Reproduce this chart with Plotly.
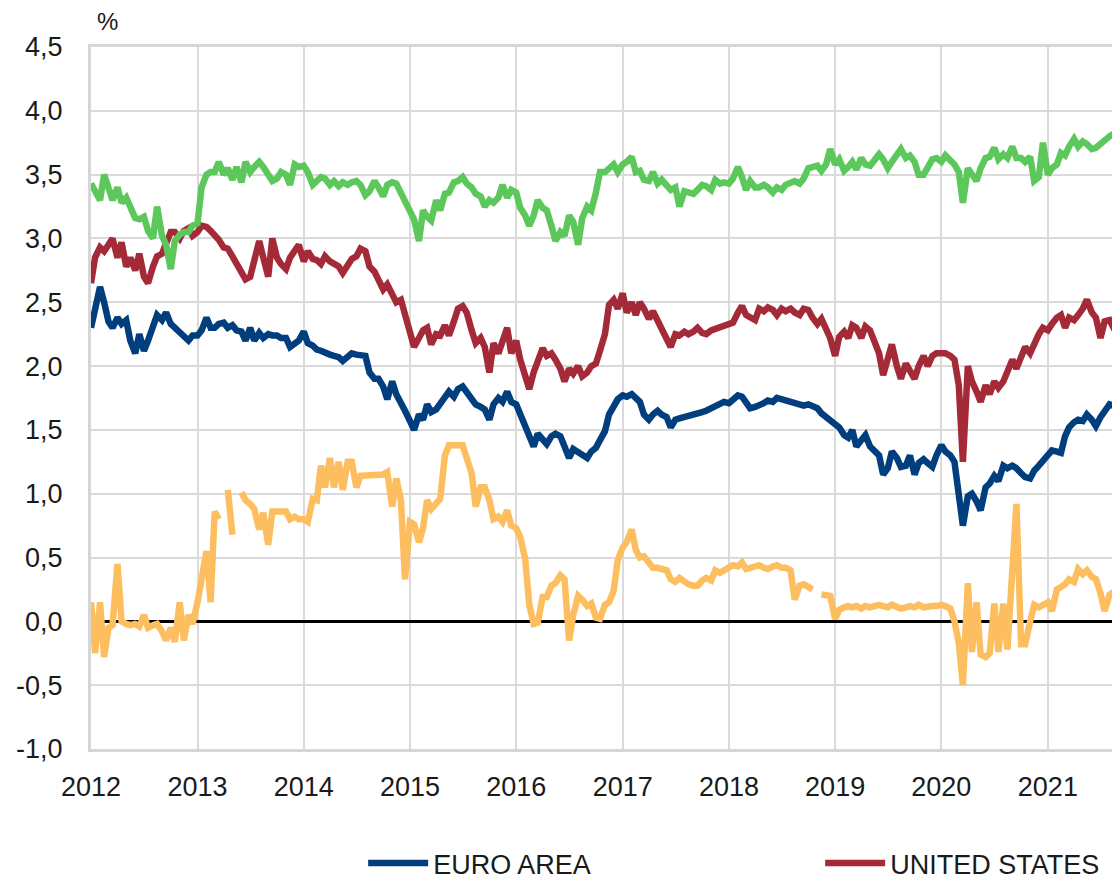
import pandas as pd
import plotly.graph_objects as go

# semi-monthly observation dates (1st and 15th of each month)
dates = pd.date_range("2012-01-01", "2021-09-01", freq="SMS")

euro_area = [
    # 2012
    2.30, 2.45, 2.62, 2.50, 2.35, 2.30, 2.38, 2.33, 2.36, 2.20, 2.10, 2.25,
    2.12, 2.20, 2.32, 2.40, 2.36, 2.42, 2.33, 2.30, 2.27, 2.24, 2.20, 2.24,
    # 2013
    2.24, 2.28, 2.38, 2.30, 2.30, 2.33, 2.34, 2.30, 2.32, 2.28, 2.27, 2.20,
    2.30, 2.20, 2.26, 2.22, 2.25, 2.24, 2.24, 2.22, 2.22, 2.15, 2.18, 2.20,
    # 2014
    2.27, 2.18, 2.16, 2.13, 2.12, 2.10, 2.09, 2.08, 2.07, 2.04, 2.08, 2.10,
    2.09, 2.09, 2.08, 1.95, 1.90, 1.90, 1.84, 1.74, 1.88, 1.78, 1.72, 1.65,
    # 2015
    1.57, 1.50, 1.62, 1.58, 1.70, 1.64, 1.66, 1.70, 1.75, 1.80, 1.76, 1.82,
    1.84, 1.79, 1.74, 1.70, 1.68, 1.66, 1.58, 1.70, 1.75, 1.72, 1.80, 1.72,
    # 2016
    1.70, 1.62, 1.52, 1.45, 1.37, 1.47, 1.42, 1.39, 1.45, 1.47, 1.45, 1.36,
    1.28, 1.35, 1.33, 1.31, 1.28, 1.33, 1.36, 1.42, 1.49, 1.62, 1.70, 1.74,
    # 2017
    1.77, 1.76, 1.78, 1.74, 1.72, 1.62, 1.58, 1.62, 1.65, 1.62, 1.60, 1.52,
    1.58, 1.59, 1.60, 1.60, 1.62, 1.63, 1.64, 1.65, 1.67, 1.69, 1.71, 1.72,
    # 2018
    1.71, 1.74, 1.77, 1.76, 1.72, 1.67, 1.68, 1.69, 1.71, 1.73, 1.72, 1.75,
    1.74, 1.73, 1.72, 1.71, 1.70, 1.69, 1.70, 1.69, 1.67, 1.63, 1.60, 1.57,
    # 2019
    1.54, 1.52, 1.46, 1.44, 1.50, 1.37, 1.42, 1.46, 1.37, 1.33, 1.30, 1.15,
    1.20, 1.33, 1.28, 1.21, 1.22, 1.30, 1.15, 1.24, 1.27, 1.24, 1.21, 1.30,
    # 2020
    1.38, 1.33, 1.30, 1.25, 1.02, 0.75, 0.98, 1.00, 0.94, 0.87, 1.05, 1.08,
    1.14, 1.10, 1.22, 1.20, 1.22, 1.20, 1.16, 1.13, 1.12, 1.18, 1.22, 1.26,
    # 2021
    1.30, 1.34, 1.33, 1.32, 1.45, 1.52, 1.56, 1.58, 1.57, 1.62, 1.58, 1.53,
    1.60, 1.65, 1.70, 1.69, 1.68,
]

united_states = [
    # 2012
    2.65, 2.85, 2.93, 2.90, 2.95, 3.00, 2.85, 2.97, 2.78, 2.85, 2.75, 2.88,
    2.70, 2.65, 2.78, 2.86, 2.88, 2.95, 3.05, 3.05, 3.00, 3.06, 3.08, 3.02,
    # 2013
    3.05, 3.10, 3.09, 3.06, 3.03, 2.99, 2.93, 2.92, 2.86, 2.80, 2.75, 2.68,
    2.70, 2.85, 2.98, 2.85, 2.70, 3.00, 2.85, 2.80, 2.76, 2.85, 2.90, 2.95,
    # 2014
    2.82, 2.90, 2.84, 2.83, 2.80, 2.86, 2.82, 2.80, 2.78, 2.73, 2.80, 2.84,
    2.86, 2.92, 2.90, 2.78, 2.74, 2.68, 2.60, 2.64, 2.55, 2.50, 2.52, 2.40,
    # 2015
    2.25, 2.15, 2.22, 2.28, 2.30, 2.17, 2.25, 2.24, 2.32, 2.24, 2.35, 2.45,
    2.47, 2.42, 2.28, 2.18, 2.22, 2.15, 1.95, 2.18, 2.10, 2.20, 2.30, 2.10,
    # 2016
    2.20, 2.05, 1.90, 1.82, 1.95, 2.05, 2.14, 2.08, 2.10, 2.05, 1.98, 1.88,
    1.98, 1.94, 2.00, 1.92, 1.95, 2.00, 2.02, 2.12, 2.25, 2.48, 2.52, 2.45,
    # 2017
    2.57, 2.42, 2.50, 2.40, 2.50, 2.45, 2.37, 2.43, 2.35, 2.30, 2.22, 2.15,
    2.25, 2.24, 2.27, 2.25, 2.27, 2.30, 2.26, 2.25, 2.28, 2.29, 2.30, 2.32,
    # 2018
    2.32, 2.34, 2.42, 2.47, 2.40, 2.38, 2.36, 2.45, 2.43, 2.46, 2.44, 2.40,
    2.45, 2.43, 2.45, 2.42, 2.40, 2.45, 2.44, 2.38, 2.33, 2.37, 2.29, 2.22,
    # 2019
    2.08, 2.23, 2.27, 2.22, 2.32, 2.30, 2.22, 2.31, 2.28, 2.20, 2.10, 1.93,
    2.05, 2.17, 2.00, 1.90, 2.02, 1.96, 1.90, 2.00, 2.08, 2.00, 2.08, 2.10,
    # 2020
    2.10, 2.10, 2.08, 2.05, 1.85, 1.25, 2.00, 1.88, 1.80, 1.72, 1.85, 1.78,
    1.88, 1.83, 1.88, 1.96, 2.05, 1.98, 2.06, 2.15, 2.10, 2.18, 2.25, 2.30,
    # 2021
    2.28, 2.33, 2.38, 2.40, 2.30, 2.38, 2.36, 2.40, 2.45, 2.52, 2.42, 2.38,
    2.22, 2.35, 2.36, 2.30, 2.32,
]

united_kingdom = [
    # 2012
    3.43, 3.38, 3.30, 3.50, 3.38, 3.30, 3.40, 3.28, 3.32, 3.25, 3.16, 3.15,
    3.17, 3.06, 3.00, 3.25, 3.02, 2.95, 2.76, 2.98, 3.03, 3.05, 3.05, 3.10,
    # 2013
    3.12, 3.40, 3.50, 3.52, 3.52, 3.60, 3.50, 3.55, 3.46, 3.56, 3.44, 3.60,
    3.52, 3.56, 3.60, 3.56, 3.50, 3.45, 3.47, 3.52, 3.50, 3.42, 3.58, 3.56,
    # 2014
    3.57, 3.52, 3.42, 3.46, 3.48, 3.47, 3.42, 3.45, 3.41, 3.44, 3.42, 3.44,
    3.45, 3.42, 3.34, 3.37, 3.45, 3.40, 3.33, 3.42, 3.44, 3.43, 3.35, 3.28,
    # 2015
    3.22, 3.15, 2.98, 3.22, 3.17, 3.14, 3.30, 3.22, 3.35, 3.36, 3.44, 3.45,
    3.48, 3.43, 3.40, 3.35, 3.33, 3.25, 3.30, 3.28, 3.32, 3.42, 3.32, 3.38,
    # 2016
    3.36, 3.24, 3.18, 3.10, 3.18, 3.30, 3.24, 3.22, 3.10, 2.98, 3.05, 3.02,
    3.18, 3.13, 2.95, 3.16, 3.25, 3.22, 3.36, 3.52, 3.52, 3.55, 3.58, 3.52,
    # 2017
    3.58, 3.60, 3.64, 3.52, 3.53, 3.46, 3.45, 3.52, 3.43, 3.46, 3.42, 3.38,
    3.40, 3.25, 3.37, 3.36, 3.35, 3.38, 3.42, 3.41, 3.38, 3.46, 3.43, 3.44,
    # 2018
    3.43, 3.47, 3.56, 3.48, 3.38, 3.45, 3.40, 3.40, 3.42, 3.40, 3.36, 3.40,
    3.38, 3.42, 3.43, 3.45, 3.43, 3.47, 3.55, 3.56, 3.57, 3.53, 3.58, 3.70,
    # 2019
    3.58, 3.62, 3.53, 3.56, 3.60, 3.54, 3.63, 3.58, 3.57, 3.61, 3.66, 3.62,
    3.55, 3.60, 3.65, 3.70, 3.63, 3.65, 3.60, 3.50, 3.50, 3.55, 3.62, 3.63,
    # 2020
    3.60, 3.65, 3.62, 3.58, 3.52, 3.28, 3.55, 3.50, 3.45, 3.55, 3.63, 3.64,
    3.71, 3.62, 3.66, 3.63, 3.72, 3.63, 3.63, 3.60, 3.64, 3.45, 3.48, 3.75,
    # 2021
    3.50, 3.55, 3.58, 3.67, 3.65, 3.72, 3.78, 3.72, 3.76, 3.74, 3.70, 3.71,
    3.74, 3.78, 3.80, 3.82, 3.80,
]

japan = [
    # 2012
    0.15, -0.25, 0.15, -0.28, -0.05, -0.03, 0.45, 0.00, -0.02, -0.03, -0.02, -0.04,
    0.05, -0.05, -0.03, -0.02, -0.08, -0.15, -0.05, -0.16, 0.15, -0.15, 0.05, -0.02,
    # 2013
    0.15, 0.35, 0.55, 0.15, 0.86, 0.80, None, 1.03, 0.68, None, 1.01, 0.95,
    0.92, 0.88, 0.72, 0.85, 0.60, 0.86, 0.86, 0.86, 0.86, 0.80, 0.82, 0.80,
    # 2014
    0.80, 0.78, 0.96, 0.95, 1.22, 1.05, 1.28, 1.05, 1.25, 1.03, 1.25, 1.25,
    1.05, 1.14, 1.14, 1.14, 1.14, 1.14, 1.15, 1.17, 0.90, 1.12, 0.95, 0.33,
    # 2015
    0.78, 0.76, 0.62, 0.73, 0.95, 0.88, 0.92, 0.96, 1.30, 1.38, 1.38, 1.38,
    1.38, 1.28, 1.16, 0.90, 1.05, 1.05, 0.95, 0.80, 0.82, 0.78, 0.87, 0.75,
    # 2016
    0.73, 0.66, 0.49, 0.13, -0.02, -0.01, 0.19, 0.19, 0.28, 0.30, 0.36, 0.33,
    -0.15, 0.05, 0.20, 0.17, 0.12, 0.14, 0.03, 0.02, 0.13, 0.15, 0.24, 0.48,
    # 2017
    0.58, 0.62, 0.72, 0.56, 0.50, 0.51, 0.45, 0.42, 0.42, 0.41, 0.40, 0.33,
    0.31, 0.34, 0.31, 0.29, 0.28, 0.28, 0.32, 0.34, 0.32, 0.40, 0.38, 0.40,
    # 2018
    0.41, 0.44, 0.43, 0.46, 0.41, 0.42, 0.43, 0.44, 0.42, 0.41, 0.43, 0.44,
    0.42, 0.42, 0.40, 0.17, 0.28, 0.29, 0.27, 0.25, None, 0.21, 0.21, 0.20,
    # 2019
    0.02, 0.09, 0.11, 0.12, 0.11, 0.12, 0.10, 0.12, 0.11, 0.12, 0.13, 0.12,
    0.11, 0.13, 0.12, 0.10, 0.11, 0.12, 0.11, 0.13, 0.11, 0.12, 0.12, 0.12,
    # 2020
    0.13, 0.12, 0.10, 0.00, -0.17, -0.50, 0.30, -0.24, 0.15, -0.26, -0.28, -0.25,
    0.14, -0.24, 0.14, -0.22, 0.39, 0.92, -0.18, -0.18, 0.00, 0.13, 0.11, 0.13,
    # 2021
    0.15, 0.08, 0.25, 0.27, 0.29, 0.33, 0.31, 0.41, 0.37, 0.40, 0.35, 0.33,
    0.22, 0.08, 0.21, 0.23, 0.18,
]

# (name, values, colour, legend id or None)
series = [
    ("JAPAN", japan, "#FDBE5F", None),
    ("EURO AREA", euro_area, "#003E7E", "legend"),
    ("UNITED STATES", united_states, "#A52A38", "legend2"),
    ("UNITED KINGDOM", united_kingdom, "#5CC85C", None),
]

year_ticks = pd.date_range("2012-01-01", "2021-01-01", freq="YS")
y_ticks = [-1.0, -0.5, 0.0, 0.5, 1.0, 1.5, 2.0, 2.5, 3.0, 3.5, 4.0, 4.5]
y_tick_text = [f"{v:.1f}".replace(".", ",") for v in y_ticks]

fig = go.Figure()
for name, vals, color, leg in series:
    fig.add_trace(go.Scatter(
        x=dates, y=vals, name=name, mode="lines",
        line=dict(color=color, width=6.5),
        connectgaps=False,
        showlegend=leg is not None,
        legend=leg if leg else "legend",
    ))

font_family = "Liberation Sans, Arial, sans-serif"
text_color = "#1a1a1a"
legend_common = dict(
    orientation="h", y=-0.163, xanchor="left", yanchor="middle",
    itemwidth=60, bgcolor="rgba(0,0,0,0)",
    font=dict(size=27, family=font_family, color=text_color),
)

# the page body adds an 8 px offset, so margins are reduced by 8 px on top/left
fig.update_layout(
    width=1120, height=882,
    margin=dict(l=83, r=10, t=39, b=141, autoexpand=False),
    paper_bgcolor="white", plot_bgcolor="white",
    font=dict(family=font_family, size=27, color=text_color),
    showlegend=True,
    legend=dict(x=0.265, **legend_common),
    legend2=dict(x=0.710, **legend_common),
    xaxis=dict(
        type="date",
        range=["2012-01-01", "2021-08-30"],
        tickvals=list(year_ticks),
        ticktext=[str(d.year) for d in year_ticks],
        showgrid=True, gridcolor="#dadada", gridwidth=2,
        showline=True, linecolor="#d6d6d6", linewidth=3, mirror=True,
        ticks="", ticklabelstandoff=12, automargin=False,
        tickfont=dict(size=27),
        zeroline=False,
    ),
    yaxis=dict(
        range=[-1.0, 4.5],
        tickvals=y_ticks,
        ticktext=y_tick_text,
        showgrid=True, gridcolor="#dadada", gridwidth=2,
        showline=True, linecolor="#d6d6d6", linewidth=3, mirror=True,
        zeroline=True, zerolinecolor="#000000", zerolinewidth=2.5,
        ticks="", ticklabelstandoff=20, automargin=False,
        tickfont=dict(size=27),
    ),
    annotations=[dict(
        text="%", xref="paper", yref="paper", x=0.0, y=1.0,
        xanchor="left", yanchor="bottom", xshift=4, yshift=10,
        showarrow=False, font=dict(size=24, family=font_family, color=text_color),
    )],
)

fig.write_html("out.html")
